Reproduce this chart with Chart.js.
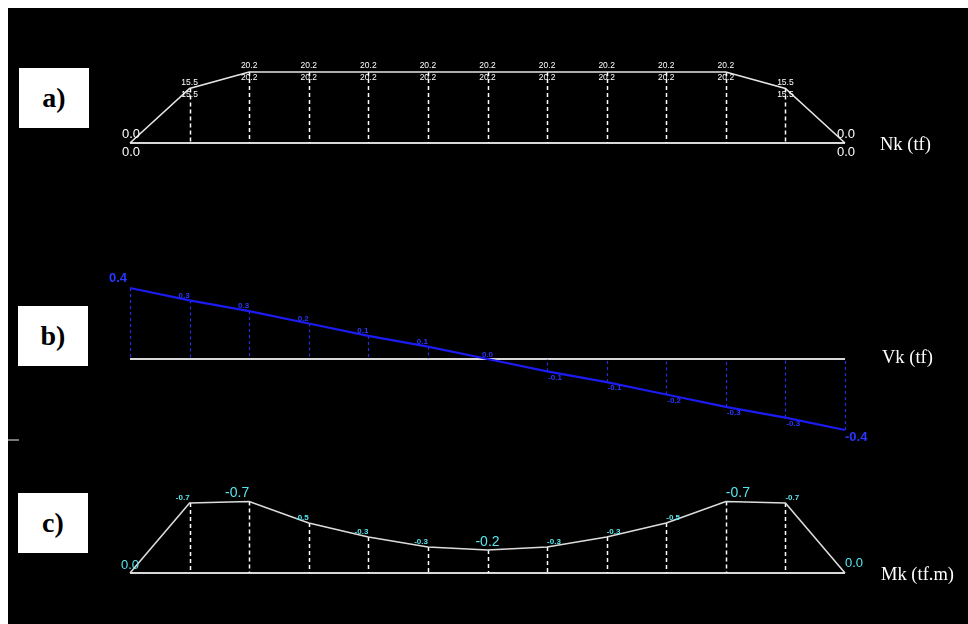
<!DOCTYPE html>
<html><head><meta charset="utf-8">
<script src="https://cdn.jsdelivr.net/npm/chart.js@4.4.1/dist/chart.umd.min.js"></script>
<style>
html,body{margin:0;padding:0;background:#fff;width:968px;height:624px;overflow:hidden;}
#bg{position:absolute;left:8px;top:8px;width:960px;height:616px;background:#000;}
canvas{position:absolute;left:0;}
.box{position:absolute;background:#fff;width:70px;height:60px;font:bold 28px "Liberation Serif","Times New Roman",serif;color:#000;display:flex;align-items:center;justify-content:center;}
.name{position:absolute;color:#fff;font:18.5px "Liberation Serif","Times New Roman",serif;line-height:20px;white-space:nowrap;}
</style></head><body>
<div id="bg"></div>
<div style="position:absolute;left:8px;top:439px;width:11px;height:2px;background:#777"></div>
<canvas id="cA" width="968" height="210" style="top:0"></canvas>
<canvas id="cB" width="968" height="250" style="top:210px"></canvas>
<canvas id="cC" width="968" height="164" style="top:460px"></canvas>
<div class="box" style="left:19px;top:68px">a)</div>
<div class="box" style="left:18px;top:306px">b)</div>
<div class="box" style="left:18px;top:493px">c)</div>
<div class="name" style="left:880px;top:134px">Nk (tf)</div>
<div class="name" style="left:882px;top:347px">Vk (tf)</div>
<div class="name" style="left:881px;top:564px">Mk (tf.m)</div>
<script>
// Stations along the member (13 sections)
const stations = ['0','1','2','3','4','5','6','7','8','9','10','11','12'];

// a) Normal force Nk (tf)
const nkValues = [0, 15.5, 20.2, 20.2, 20.2, 20.2, 20.2, 20.2, 20.2, 20.2, 20.2, 15.5, 0];
const nkLabels = ['0.0','15.5','20.2','20.2','20.2','20.2','20.2','20.2','20.2','20.2','20.2','15.5','0.0'];

// b) Shear force Vk (tf)
const vkValues = [0.4, 0.33, 0.27, 0.2, 0.13, 0.07, 0, -0.07, -0.13, -0.2, -0.27, -0.33, -0.4];
const vkLabels = ['0.4','0.3','0.3','0.2','0.1','0.1','0.0','-0.1','-0.1','-0.2','-0.3','-0.3','-0.4'];

// c) Bending moment Mk (tf.m)
const mkValues = [0, -0.70, -0.715, -0.50, -0.36, -0.26, -0.23, -0.26, -0.36, -0.50, -0.715, -0.70, 0];
const mkLabels = ['0.0','-0.7','-0.7','-0.5','-0.3','-0.3','-0.2','-0.3','-0.3','-0.5','-0.7','-0.7','0.0'];
const mkMajor = [0, 2, 6, 10, 12];

const SANS = '"Liberation Sans", Arial, sans-serif';

function guides(values, dashColor, dashWidth, dash){
  return {
    id: 'guides',
    beforeDatasetsDraw(chart){
      const ctx = chart.ctx, xs = chart.scales.x, ys = chart.scales.y;
      const y0 = ys.getPixelForValue(0);
      ctx.save();
      ctx.strokeStyle = '#d8d8d8'; ctx.lineWidth = 2;
      ctx.beginPath();
      ctx.moveTo(xs.getPixelForValue(0), y0);
      ctx.lineTo(xs.getPixelForValue(values.length - 1), y0);
      ctx.stroke();
      ctx.setLineDash(dash); ctx.strokeStyle = dashColor; ctx.lineWidth = dashWidth;
      values.forEach((v, i) => {
        if (v === 0) return;
        const x = Math.round(xs.getPixelForValue(i)) + 0.5;
        ctx.beginPath(); ctx.moveTo(x, ys.getPixelForValue(v)); ctx.lineTo(x, y0); ctx.stroke();
      });
      ctx.restore();
    }
  };
}

function labelsPlugin(fn){
  return { id: 'labels', afterDatasetsDraw(chart){
    const ctx = chart.ctx; ctx.save(); ctx.textBaseline = 'middle';
    fn(ctx, chart.scales.x, chart.scales.y);
    ctx.restore();
  }};
}

function makeChart(id, values, color, width, yopts, padding, plugins){
  return new Chart(document.getElementById(id), {
    type: 'line',
    data: { labels: stations, datasets: [{ data: values, borderColor: color, borderWidth: width, pointRadius: 0, tension: 0, clip: false, fill: false }] },
    options: {
      responsive: false, animation: false, devicePixelRatio: 1,
      layout: { padding: padding },
      plugins: { legend: { display: false }, tooltip: { enabled: false }, title: { display: false } },
      scales: {
        x: { type: 'category', display: false, offset: false },
        y: Object.assign({ display: false }, yopts)
      },
      events: []
    },
    plugins: plugins
  });
}

// Panel a
makeChart('cA', nkValues, '#e6e6e6', 1.6, { min: 0, max: 20.2 },
  { left: 130, right: 123, top: 72, bottom: 67 },
  [guides(nkValues, '#ffffff', 1.5, [4, 3]), labelsPlugin((ctx, xs, ys) => {
    ctx.fillStyle = '#ffffff'; ctx.textAlign = 'center';
    const y0 = ys.getPixelForValue(0);
    nkValues.forEach((v, i) => {
      const x = xs.getPixelForValue(i);
      if (v === 0) {
        ctx.font = '13px ' + SANS;
        ctx.fillText(nkLabels[i], x + 1, y0 - 9);
        ctx.fillText(nkLabels[i], x + 1, y0 + 9);
      } else {
        const y = ys.getPixelForValue(v);
        ctx.font = '8.5px ' + SANS;
        ctx.fillText(nkLabels[i], x, y - 6);
        ctx.fillText(nkLabels[i], x, y + 6);
      }
    });
  })]);

// Panel b
makeChart('cB', vkValues, '#1c1cf2', 2.2, { min: -0.4, max: 0.4 },
  { left: 130, right: 123, top: 78, bottom: 30 },
  [guides(vkValues, '#2a2ae0', 1.2, [3, 3]), labelsPlugin((ctx, xs, ys) => {
    ctx.fillStyle = '#2a36ff';
    const n = vkValues.length;
    vkValues.forEach((v, i) => {
      const x = xs.getPixelForValue(i), y = ys.getPixelForValue(v);
      if (i === 0) {
        ctx.font = 'bold 13px ' + SANS; ctx.textAlign = 'right';
        ctx.fillText(vkLabels[i], x - 3, y - 10);
      } else if (i === n - 1) {
        ctx.font = 'bold 13px ' + SANS; ctx.textAlign = 'left';
        ctx.fillText(vkLabels[i], x, y + 7);
      } else if (v > 0) {
        ctx.font = 'bold 8px ' + SANS; ctx.textAlign = 'right';
        ctx.fillText(vkLabels[i], x, y - 5);
      } else if (v === 0) {
        ctx.font = 'bold 8px ' + SANS; ctx.textAlign = 'center';
        ctx.fillText(vkLabels[i], x, y - 4);
      } else {
        ctx.font = 'bold 8px ' + SANS; ctx.textAlign = 'left';
        ctx.fillText(vkLabels[i], x + 1, y + 6);
      }
    });
  })]);

// Panel c
makeChart('cC', mkValues, '#dcdcdc', 1.6, { min: -0.7, max: 0, reverse: true },
  { left: 130, right: 123, top: 43, bottom: 51 },
  [guides(mkValues, '#ffffff', 1.5, [4, 3]), labelsPlugin((ctx, xs, ys) => {
    ctx.fillStyle = '#5ae6ee';
    const n = mkValues.length, mid = (n - 1) / 2;
    mkValues.forEach((v, i) => {
      const x = xs.getPixelForValue(i), y = ys.getPixelForValue(v);
      const major = mkMajor.includes(i);
      if (i === 0) {
        ctx.font = '13px ' + SANS; ctx.textAlign = 'center';
        ctx.fillText(mkLabels[i], x, y - 8);
      } else if (i === n - 1) {
        ctx.font = '13px ' + SANS; ctx.textAlign = 'left';
        ctx.fillText(mkLabels[i], x, y - 10);
      } else {
        ctx.font = major ? '14px ' + SANS : 'bold 8px ' + SANS;
        ctx.textAlign = i < mid ? 'right' : (i > mid ? 'left' : 'center');
        ctx.fillText(mkLabels[i], x, y - (major ? 8 : 5));
      }
    });
  })]);
</script>
</body></html>
